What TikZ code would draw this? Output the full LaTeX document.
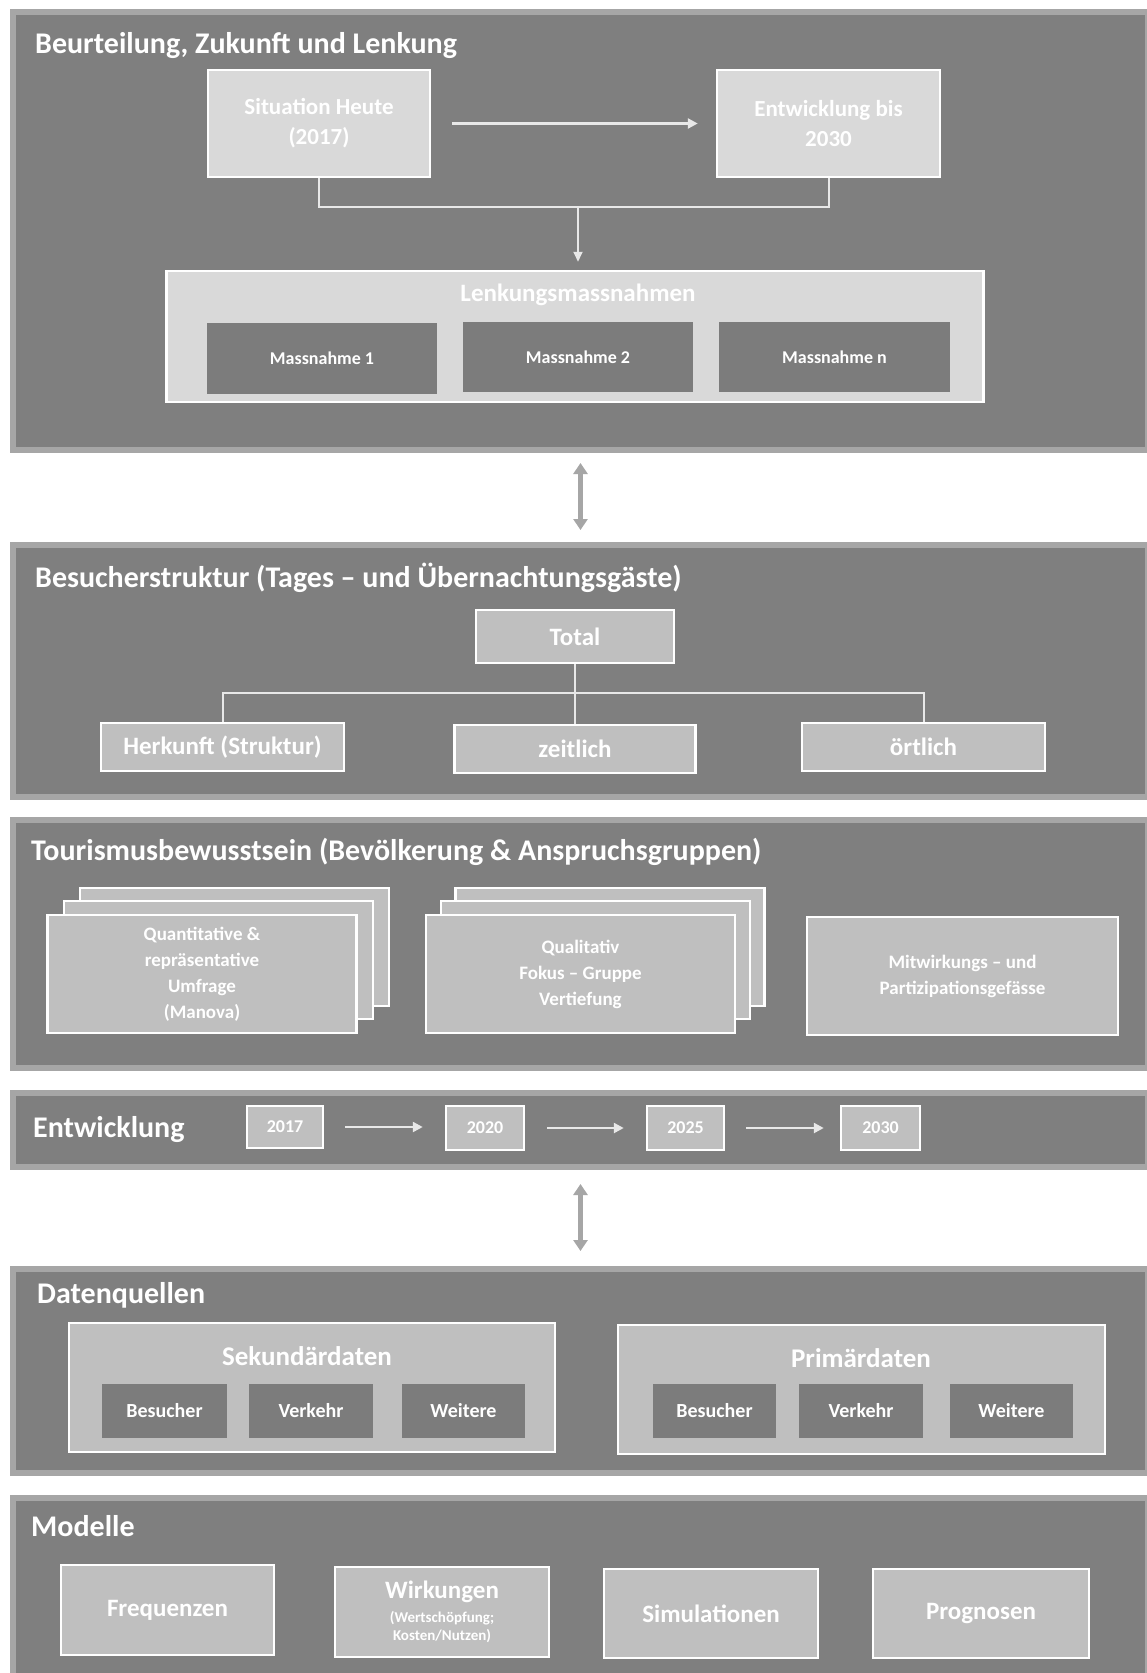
\documentclass[tikz,border=0pt]{standalone}
\usepackage{fontspec}
\setmainfont{Carlito}
\usetikzlibrary{arrows.meta}
\definecolor{secbg}{HTML}{7F7F7F}
\definecolor{secborder}{HTML}{A6A6A6}
\definecolor{topbox}{HTML}{D9D9D9}
\definecolor{lbox}{HTML}{BFBFBF}
\definecolor{dbox}{HTML}{7C7C7C}
\definecolor{conn}{HTML}{E8E8E8}
\newcommand{\fsz}[2]{\fontsize{#1}{#2}\selectfont\bfseries}
\tikzset{
  sec/.style={draw=secborder, fill=secbg, line width=6pt, rectangle, anchor=north west, inner sep=0pt},
  sectitle/.style={anchor=base west, inner sep=0pt, text=white, font=\fsz{30}{36}},
  topb/.style={draw=white, fill=topbox, line width=2.5pt, rectangle, inner sep=0pt, text=white, align=center, font=\fsz{23}{30}},
  lb/.style={draw=white, fill=lbox, line width=2.5pt, rectangle, inner sep=0pt, text=white, align=center, font=\fsz{25}{30}},
  db/.style={fill=dbox, rectangle, inner sep=0pt, text=white, align=center, font=\fsz{18}{22}},
  stk/.style={lb, font=\fsz{19}{26}, minimum width=309pt, minimum height=118pt},
  conline/.style={draw=conn, line width=2pt},
  conarrow/.style={draw=conn, line width=2.5pt, -{Triangle[length=10pt,width=10pt]}},
  dblarrow/.style={draw=secborder, line width=4.5pt, {Triangle[length=11pt,width=14pt]}-{Triangle[length=11pt,width=14pt]}},
  plain/.style={inner sep=0pt, text=white}
}
\begin{document}
\begin{tikzpicture}[x=1pt,y=-1pt]
\useasboundingbox (0,0) rectangle (1147,1673);
\fill[white] (0,0) rectangle (1147,1673);

% sections
\node[sec, minimum width=1135pt, minimum height=438pt] (s1) at (10,9) {};
\node[sec, minimum width=1135pt, minimum height=252pt] (s2) at (10,542) {};
\node[sec, minimum width=1135pt, minimum height=248pt] (s3) at (10,817) {};
\node[sec, minimum width=1135pt, minimum height=74pt] (s4) at (10,1090) {};
\node[sec, minimum width=1135pt, minimum height=204pt] (s5) at (10,1266) {};
\node[sec, minimum width=1135pt, minimum height=200pt] (s6) at (10,1495) {};

\draw[dblarrow, shorten <=10pt, shorten >=12pt] (s1.south) -- (s2.north);
\draw[dblarrow, shorten <=14pt, shorten >=15pt] (s4.south) -- (s5.north);

% ---------- section 1
\node[sectitle] (t1) at (35,53) {Beurteilung, Zukunft und Lenkung};
\node[topb, minimum width=222pt, minimum height=107pt] (sit) at (319,123.5) {Situation Heute\\(2017)};
\node[topb, minimum width=223pt, minimum height=107pt] (ent) at (828.5,123.5) {Entwicklung bis\\2030};
\draw[conarrow, shorten <=21pt, shorten >=18pt] (sit.east) -- (ent.west);
\node[topb, minimum width=817pt, minimum height=131pt] (lenk) at (575,336.5) {};
\node[plain, font=\fsz{25}{30}] (lenkt) at (578,295) {Lenkungsmassnahmen};
\node[db, minimum width=230pt, minimum height=71pt] (m1) at (322,358.5) {Massnahme 1};
\node[db, minimum width=230pt, minimum height=70pt] (m2) at (578,357) {Massnahme 2};
\node[db, minimum width=231pt, minimum height=70pt] (m3) at (834.5,357) {Massnahme n};
\coordinate (j1) at (578,207);
\draw[conline] (sit.south) |- (j1) -| (ent.south);
\draw[conline, -{Triangle[length=10pt,width=9pt]}, shorten >=8pt] (j1) -- (j1 |- lenk.north);

% ---------- section 2
\node[sectitle] (t2) at (35,587) {Besucherstruktur (Tages – und Übernachtungsgäste)};
\node[lb, minimum width=198pt, minimum height=53pt] (total) at (575,636.5) {Total};
\node[lb, minimum width=243pt, minimum height=48pt] (herk) at (222.5,747) {Herkunft (Struktur)};
\node[lb, minimum width=241pt, minimum height=48pt] (zeit) at (575,749) {zeitlich};
\node[lb, minimum width=243pt, minimum height=48pt] (ort) at (923.5,747) {örtlich};
\coordinate (j2) at (575,693);
\draw[conline] (total.south) -- (zeit.north);
\draw[conline] (herk.north) |- (j2) -| (ort.north);

% ---------- section 3
\node[sectitle] (t3) at (31,860) {Tourismusbewusstsein (Bevölkerung \& Anspruchsgruppen)};
\node[stk] (q3) at (234.5,947) {};
\node[stk] (q2) at (218.5,960) {};
\node[stk] (q1) at (202,974) {Quantitative \&\\repräsentative\\Umfrage\\(Manova)};
\node[stk] (k3) at (610,947) {};
\node[stk] (k2) at (595.5,960) {};
\node[stk] (k1) at (580.5,974) {Qualitativ\\Fokus – Gruppe\\Vertiefung};
\node[stk, minimum width=311pt] (mit) at (962.5,976) {Mitwirkungs – und\\Partizipationsgefässe};

% ---------- section 4
\node[sectitle] (t4) at (33,1137) {Entwicklung};
\node[lb, font=\fsz{18}{22}, minimum width=76pt, minimum height=42pt] (y1) at (285,1127) {2017};
\node[lb, font=\fsz{18}{22}, minimum width=78pt, minimum height=44pt] (y2) at (485,1128) {2020};
\node[lb, font=\fsz{18}{22}, minimum width=77pt, minimum height=44pt] (y3) at (685.5,1128) {2025};
\node[lb, font=\fsz{18}{22}, minimum width=79pt, minimum height=44pt] (y4) at (880.5,1128) {2030};
\draw[conarrow, shorten <=21pt, shorten >=22pt] (y1.east) -- (y1.east -| y2.west);
\draw[conarrow, shorten <=22pt, shorten >=22pt] (y2.east) -- (y2.east -| y3.west);
\draw[conarrow, shorten <=21pt, shorten >=16pt] (y3.east) -- (y3.east -| y4.west);

% ---------- section 5
\node[sectitle] (t5) at (37,1303) {Datenquellen};
\node[lb, minimum width=486pt, minimum height=129pt] (sek) at (312,1387.5) {};
\node[lb, minimum width=487pt, minimum height=129pt] (pri) at (861.5,1389.5) {};
\node[plain, font=\fsz{27}{30}] (sekt) at (307,1356) {Sekundärdaten};
\node[plain, font=\fsz{27}{30}] (prit) at (861,1358) {Primärdaten};
\node[db, font=\fsz{20}{24}, minimum width=125pt, minimum height=54pt] (sb1) at (164.5,1411) {Besucher};
\node[db, font=\fsz{20}{24}, minimum width=124pt, minimum height=54pt] (sb2) at (311,1411) {Verkehr};
\node[db, font=\fsz{20}{24}, minimum width=123pt, minimum height=54pt] (sb3) at (463.5,1411) {Weitere};
\node[db, font=\fsz{20}{24}, minimum width=123pt, minimum height=54pt] (pb1) at (714.5,1411) {Besucher};
\node[db, font=\fsz{20}{24}, minimum width=124pt, minimum height=54pt] (pb2) at (861,1411) {Verkehr};
\node[db, font=\fsz{20}{24}, minimum width=123pt, minimum height=54pt] (pb3) at (1011.5,1411) {Weitere};

% ---------- section 6
\node[sectitle] (t6) at (31,1536) {Modelle};
\node[lb, minimum width=213pt, minimum height=90pt] (freq) at (167.5,1610) {Frequenzen};
\node[lb, font=\fsz{15}{18}, minimum width=214pt, minimum height=90pt] (wirk) at (442,1612) {{\fsz{25}{30}Wirkungen}\\[6pt](Wertschöpfung;\\Kosten/Nutzen)};
\node[lb, minimum width=214pt, minimum height=89pt] (sim) at (711,1613.5) {Simulationen};
\node[lb, minimum width=216pt, minimum height=89pt] (prog) at (981,1613.5) {Prognosen};
\end{tikzpicture}
\end{document}
